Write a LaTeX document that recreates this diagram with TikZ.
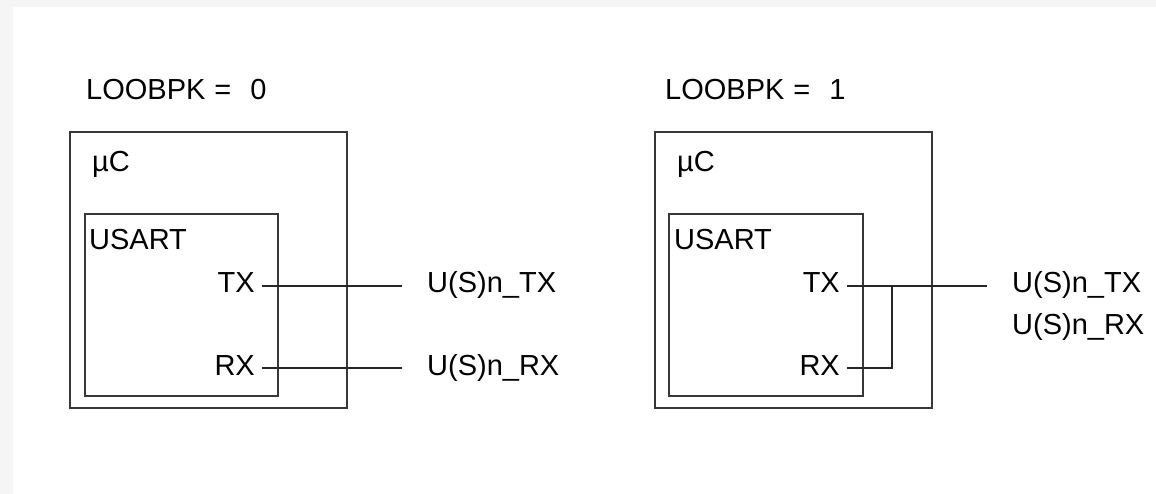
\documentclass[tikz,border=0pt]{standalone}
\usepackage{fontspec}
\setmainfont{Liberation Sans}
\begin{document}
\begin{tikzpicture}[x=1pt,y=-1pt,
  box/.style={draw=black!78, line width=2pt, inner sep=0pt, anchor=north west},
  wire/.style={draw=black!85, line width=1.8pt},
  lbl/.style={inner sep=0pt, font=\fontsize{29}{34}\selectfont}]
\fill[black!4] (0,0) rectangle (1156,494);
\fill[white] (13,7) rectangle (1156,494);
\useasboundingbox (0,0) rectangle (1156,494);

% ---- left panel: LOOBPK = 0
\node[lbl, anchor=base west] (titleL) at (86,100) {LOOBPK\hskip9pt=\hskip19pt0};
\node[box, minimum width=277pt, minimum height=276pt] (outerL) at (69,131) {};
\node[lbl, anchor=base west] (ucL) at (92,172) {µC};
\node[box, minimum width=193pt, minimum height=182pt] (usartL) at (84,213) {};
\node[lbl, anchor=base west] (usartLt) at (89,250) {USART};
\node[lbl, anchor=base east] (txL) at (255,292) {TX};
\node[lbl, anchor=base east] (rxL) at (255,375) {RX};
\coordinate (txLa) at (262,286);
\coordinate (rxLa) at (262,368);
\coordinate (txLb) at (402,286);
\coordinate (rxLb) at (402,368);
\node[lbl, anchor=base west] (utxL) at (427,292) {U(S)n\_TX};
\node[lbl, anchor=base west] (urxL) at (427,375) {U(S)n\_RX};
\draw[wire] (txLa) -- (txLb);
\draw[wire] (rxLa) -- (rxLb);

% ---- right panel: LOOBPK = 1
\node[lbl, anchor=base west] (titleR) at (665,100) {LOOBPK\hskip9pt=\hskip19pt1};
\node[box, minimum width=277pt, minimum height=276pt] (outerR) at (654,131) {};
\node[lbl, anchor=base west] (ucR) at (677,172) {µC};
\node[box, minimum width=194pt, minimum height=182pt] (usartR) at (668,213) {};
\node[lbl, anchor=base west] (usartRt) at (674,250) {USART};
\node[lbl, anchor=base east] (txR) at (840,292) {TX};
\node[lbl, anchor=base east] (rxR) at (840,375) {RX};
\coordinate (txRa) at (847,286);
\coordinate (rxRa) at (847,368);
\coordinate (jR) at (892,286);
\coordinate (txRb) at (987,286);
\node[lbl, anchor=base west] (utxR) at (1012,292) {U(S)n\_TX};
\node[lbl, anchor=base west] (urxR) at (1012,334) {U(S)n\_RX};
\draw[wire] (txRa) -- (txRb);
\draw[wire] (rxRa) -| (jR);
\end{tikzpicture}
\end{document}
